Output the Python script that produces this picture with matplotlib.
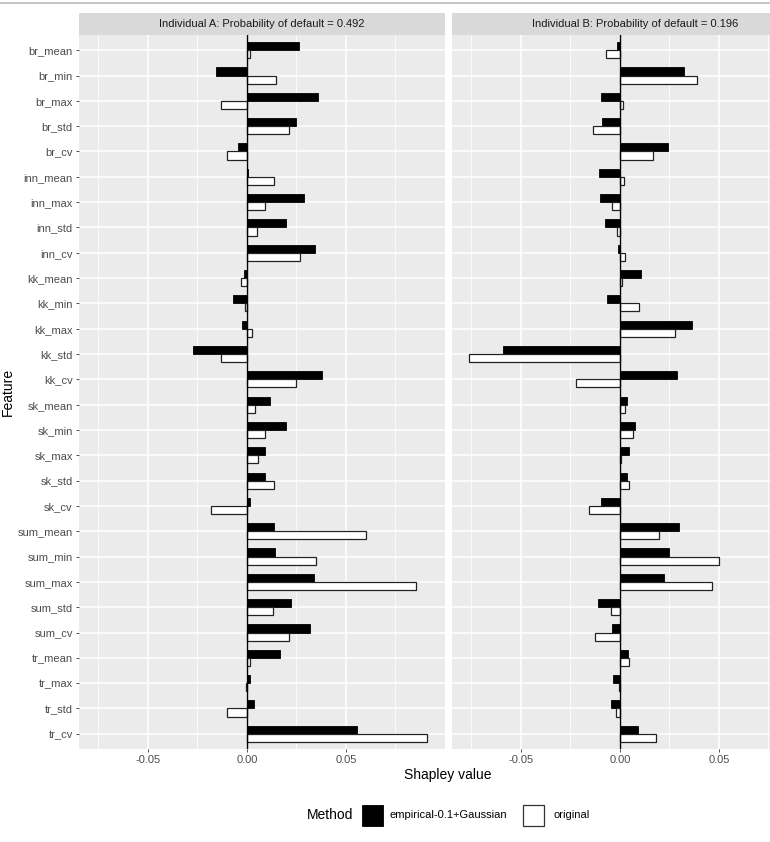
import matplotlib
matplotlib.use("Agg")
import matplotlib.pyplot as plt
import numpy as np
from matplotlib.patches import Rectangle
from matplotlib.lines import Line2D

plt.rcParams['font.family'] = ['Liberation Sans', 'DejaVu Sans']

features = ["br_mean", "br_min", "br_max", "br_std", "br_cv",
            "inn_mean", "inn_max", "inn_std", "inn_cv",
            "kk_mean", "kk_min", "kk_max", "kk_std", "kk_cv",
            "sk_mean", "sk_min", "sk_max", "sk_std", "sk_cv",
            "sum_mean", "sum_min", "sum_max", "sum_std", "sum_cv",
            "tr_mean", "tr_max", "tr_std", "tr_cv"]

# Individual A
a_empirical = [0.0261, -0.0156, 0.0358, 0.0246, -0.0047,
               0.0003, 0.0286, 0.0196, 0.0346,
               -0.0017, -0.0072, -0.0023, -0.0273, 0.0380,
               0.0117, 0.0196, 0.0092, 0.0089, 0.0013,
               0.0135, 0.0140, 0.0341, 0.0224, 0.0318,
               0.0169, 0.0015, 0.0035, 0.0557]
a_original = [0.0015, 0.0145, -0.0129, 0.0212, -0.0099,
              0.0137, 0.0090, 0.0052, 0.0269,
              -0.0030, -0.0010, 0.0025, -0.0132, 0.0246,
              0.0043, 0.0090, 0.0057, 0.0135, -0.0179,
              0.0600, 0.0351, 0.0853, 0.0132, 0.0212,
              0.0017, -0.0007, -0.0099, 0.0910]

# Individual B
b_empirical = [-0.0013, 0.0324, -0.0097, -0.0089, 0.0244,
               -0.0104, -0.0102, -0.0074, -0.0010,
               0.0107, -0.0064, 0.0363, -0.0590, 0.0286,
               0.0035, 0.0074, 0.0045, 0.0035, -0.0094,
               0.0296, 0.0246, 0.0221, -0.0109, -0.0040,
               0.0039, -0.0037, -0.0045, 0.0089]
b_original = [-0.0070, 0.0390, 0.0013, -0.0137, 0.0169,
              0.0018, -0.0038, -0.0013, 0.0027,
              0.0009, 0.0095, 0.0278, -0.0763, -0.0222,
              0.0028, 0.0065, 0.0003, 0.0045, -0.0156,
              0.0199, 0.0500, 0.0465, -0.0044, -0.0124,
              0.0045, -0.0005, -0.0020, 0.0181]

titles = ["Individual A: Probability of default = 0.492",
          "Individual B: Probability of default = 0.196"]
xlim = (-0.0848, 0.1)

W, H = 770, 842
fig = plt.figure(figsize=(W / 100, H / 100), dpi=100)

def px_axes(x0, y0, x1, y1):
    return fig.add_axes([x0 / W, 1 - y1 / H, (x1 - x0) / W, (y1 - y0) / H])

fig.add_artist(Line2D([0, 1], [1 - 2.5 / H, 1 - 2.5 / H], color="#BBBBBB", lw=1.2))

# second panel runs past the right edge (the reference is cropped there)
panels = [(79, 445, a_empirical, a_original), (452, 818, b_empirical, b_original)]
y = np.arange(len(features))
h = 0.32
for i, (x0, x1, emp, orig) in enumerate(panels):
    ax = px_axes(x0, 35, x1, 749)
    ax.set_facecolor("#EBEBEB")
    ax.set_xlim(*xlim)
    ax.set_ylim(len(features) - 0.4, -0.6)
    ax.set_xticks([-0.05, 0, 0.05])
    ax.set_xticks([-0.075, -0.025, 0.025, 0.075], minor=True)
    ax.set_xticklabels(["-0.05", "0.00", "0.05"])
    ax.set_yticks(y)
    ax.grid(True, which="major", color="white", lw=1.1)
    ax.grid(True, which="minor", axis="x", color="white", lw=0.55)
    ax.set_axisbelow(True)
    for s in ax.spines.values():
        s.set_visible(False)
    ax.tick_params(axis="both", which="major", length=2.5, width=0.6, color="#333333",
                   labelsize=8, labelcolor="#4D4D4D", pad=2)
    ax.tick_params(axis="x", which="minor", length=0)
    if i == 0:
        ax.set_yticklabels(features)
    else:
        ax.tick_params(axis="y", length=0, labelleft=False)
    ax.barh(y - h / 2, emp, height=h, color="black", edgecolor="black", lw=0.6)
    ax.barh(y + h / 2, orig, height=h, color="white", edgecolor="#222222", lw=0.9)
    ax.axvline(0, color="black", lw=1.0)

    sax = px_axes(x0, 13, x1, 35)
    sax.set_facecolor("#D9D9D9")
    sax.set_xticks([])
    sax.set_yticks([])
    for s in sax.spines.values():
        s.set_visible(False)
    sax.text(0.5, 0.5, titles[i], ha="center", va="center", fontsize=8, color="#1A1A1A",
             transform=sax.transAxes)

fig.text(8 / W, 1 - 392 / H, "Feature", rotation=90, ha="center", va="center", fontsize=10)
fig.text(448 / W, 1 - 775 / H, "Shapley value", ha="center", va="center", fontsize=10)

# legend
fig.text(307 / W, 1 - 815 / H, "Method", ha="left", va="center", fontsize=10)
fig.add_artist(Rectangle((362 / W, 1 - 826 / H), 21 / W, 21 / H, facecolor="black",
                         edgecolor="black", lw=0.6, transform=fig.transFigure))
fig.text(390 / W, 1 - 815 / H, "empirical-0.1+Gaussian", ha="left", va="center", fontsize=8)
fig.add_artist(Rectangle((523 / W, 1 - 826 / H), 21 / W, 21 / H, facecolor="white",
                         edgecolor="#333333", lw=0.9, transform=fig.transFigure))
fig.text(553 / W, 1 - 815 / H, "original", ha="left", va="center", fontsize=8)

fig.savefig("out.png", dpi=100)
